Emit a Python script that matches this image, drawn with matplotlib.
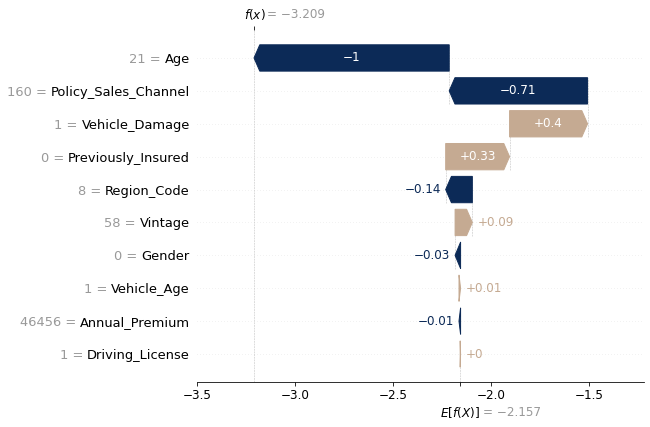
"""SHAP-style waterfall plot for a single prediction (insurance cross-sell model)."""
import re

import matplotlib
matplotlib.use("Agg")
import matplotlib.pyplot as plt

# data, ordered bottom -> top (as drawn)
feature_names = ["Driving_License", "Annual_Premium", "Vehicle_Age", "Gender", "Vintage",
                 "Region_Code", "Previously_Insured", "Vehicle_Damage",
                 "Policy_Sales_Channel", "Age"]
feature_values = [1, 46456, 1, 0, 58, 8, 0, 1, 160, 21]
shap_values = [0.002, -0.008, 0.008, -0.028, 0.088, -0.136, 0.326, 0.398, -0.706, -0.996]
base_value = -2.157
xticks = [-3.5, -3.0, -2.5, -2.0, -1.5]

POS = "#c5aa92"
NEG = "#0c2a57"
GREY = "#999999"


def format_value(v, fmt):
    s = fmt % v
    s = re.sub(r"\.?0+$", "", s)
    if s.startswith("-"):
        s = "\u2212" + s[1:]
    return s


DPI = 72
fig = plt.figure(figsize=(650 / DPI, 427 / DPI), dpi=DPI)
ax = fig.add_axes([197 / 650, 1 - 382 / 427, 447 / 650, 352 / 427])

n = len(shap_values)
fx = base_value + sum(shap_values)
ax.set_xlim(-3.5, -1.219)
ax.set_ylim(-0.85, n - 1 + 0.85)
fig.canvas.draw()
renderer = fig.canvas.get_renderer()

bbox = ax.get_window_extent()
bbox_to_xscale = (ax.get_xlim()[1] - ax.get_xlim()[0]) / bbox.width
hl_scaled = bbox_to_xscale * 0.08 * DPI
bar_width = 0.8

# row gridlines
for i in range(n):
    ax.axhline(i, color="#cccccc", lw=0.5, dashes=(1, 5), zorder=-1)

# walk from the top (f(x)) down to the base value
loc = fx
for k, i in enumerate(range(n - 1, -1, -1)):
    sval = shap_values[i]
    loc -= sval
    if k + 4 < n:
        ax.plot([loc, loc], [i - 1 - 0.4, i + 0.4], color="#bbbbbb",
                linestyle="--", linewidth=0.5, zorder=-1)
    color = POS if sval >= 0 else NEG
    sign = 1 if sval >= 0 else -1
    body = max(abs(sval) - hl_scaled, 1e-6) * sign
    arrow = ax.arrow(loc, i, body, 0, head_length=min(abs(sval), hl_scaled),
                     color=color, width=bar_width, head_width=bar_width)
    label = format_value(sval, "%+0.02f")
    txt = ax.text(loc + 0.5 * sval, i, label, ha="center", va="center",
                  color="white", fontsize=12)
    tb = txt.get_window_extent(renderer=renderer)
    ab = arrow.get_window_extent(renderer=renderer)
    if tb.width > ab.width:
        txt.remove()
        pad = 5 * bbox_to_xscale
        if sval >= 0:
            ax.text(loc + sval + pad, i, label, ha="left", va="center",
                    color=POS, fontsize=12)
        else:
            ax.text(loc + sval - pad, i, label, ha="right", va="center",
                    color=NEG, fontsize=12)

# reference lines for f(x) and E[f(X)]
ax.axvline(fx, 0, 1, color="#bbbbbb", linestyle="--", linewidth=0.5, zorder=-1)
ax.axvline(base_value, 0, 0.85 / (n - 1 + 1.7), color="#bbbbbb",
           linestyle="--", linewidth=0.5, zorder=-1)

# y labels: black feature name, grey "value =" to its left
ax.set_yticks([])
ytrans = ax.get_yaxis_transform()
for i, (f, v) in enumerate(zip(feature_names, feature_values)):
    name = ax.annotate(f, xy=(0, i), xycoords=ytrans, xytext=(-7, 0),
                       textcoords="offset pixels", ha="right", va="center_baseline",
                       fontsize=13, color="black")
    w = name.get_window_extent(renderer=renderer).width
    ax.annotate(format_value(v, "%0.03f") + " =", xy=(0, i), xycoords=ytrans,
                xytext=(-7 - w - 4, 0), textcoords="offset pixels", ha="right",
                va="center_baseline", fontsize=13, color=GREY)

ax.set_xticks(xticks)
ax.set_xticklabels(["\u2212%.1f" % abs(x) for x in xticks], fontsize=12)
for s in ["top", "right", "left"]:
    ax.spines[s].set_visible(False)

# E[f(X)] tick at the bottom, f(x) tick at the top
ax2 = ax.twiny()
ax2.set_xlim(ax.get_xlim())
ax2.xaxis.set_ticks_position("bottom")
ax2.set_xticks([base_value])
ax2.set_xticklabels([""])
ax2.tick_params(axis="x", length=4)
for s in ax2.spines.values():
    s.set_visible(False)

ax3 = ax.twiny()
ax3.set_xlim(ax.get_xlim())
ax3.set_xticks([fx])
ax3.set_xticklabels([""])
ax3.tick_params(axis="x", length=4)
for s in ax3.spines.values():
    s.set_visible(False)

xtrans = ax.get_xaxis_transform()
ax.annotate("$E[f(X)]$", xy=(base_value, 0), xycoords=xtrans, xytext=(20, -31),
            textcoords="offset pixels", ha="right", va="center", fontsize=12)
ax.annotate("= " + format_value(base_value, "%0.03f"), xy=(base_value, 0), xycoords=xtrans,
            xytext=(23, -31), textcoords="offset pixels", ha="left", va="center",
            fontsize=12, color=GREY)
ax.annotate("$f(x)$", xy=(fx, 1), xycoords=xtrans, xytext=(-10, 15),
            textcoords="offset pixels", ha="left", va="center", fontsize=12)
ax.annotate("= " + format_value(fx, "%0.03f"), xy=(fx, 1), xycoords=xtrans,
            xytext=(13, 15), textcoords="offset pixels", ha="left", va="center",
            fontsize=12, color=GREY)

fig.savefig("out.png", dpi=DPI)
